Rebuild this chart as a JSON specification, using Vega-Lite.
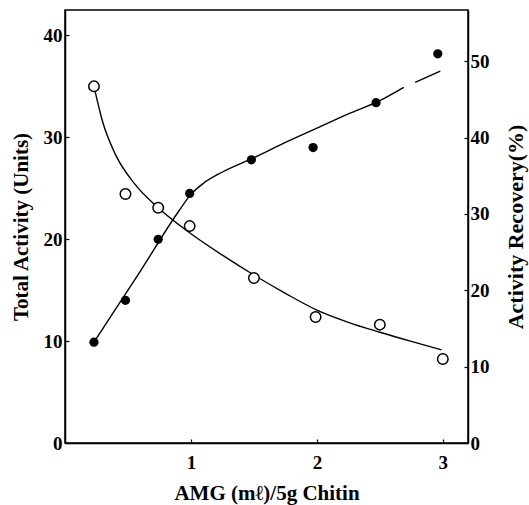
{
  "$schema": "https://vega.github.io/schema/vega-lite/v6.json",
  "width": 403,
  "height": 433,
  "autosize": {"type": "none"},
  "padding": {"left": 65, "top": 10, "right": 61, "bottom": 62},
  "background": "white",
  "config": {
    "view": {"stroke": "black", "strokeWidth": 1.5},
    "axis": {
      "grid": false,
      "domainColor": "black",
      "domainWidth": 1.5,
      "tickColor": "black",
      "tickWidth": 1.2,
      "tickSize": -4,
      "labelFont": "Liberation Serif",
      "labelFontWeight": "bold",
      "labelFontSize": 19,
      "labelColor": "black",
      "titleFont": "Liberation Serif",
      "titleFontWeight": "bold",
      "titleFontSize": 21,
      "titleColor": "black"
    }
  },
  "datasets": {
    "pts": [
      {"series": "total", "x": 0.23, "y": 9.9},
      {"series": "total", "x": 0.48, "y": 14.0},
      {"series": "total", "x": 0.74, "y": 20.0},
      {"series": "total", "x": 0.99, "y": 24.5},
      {"series": "total", "x": 1.48, "y": 27.8},
      {"series": "total", "x": 1.97, "y": 29.0},
      {"series": "total", "x": 2.47, "y": 33.4},
      {"series": "total", "x": 2.96, "y": 38.2},
      {"series": "recovery", "x": 0.23, "y": 46.7},
      {"series": "recovery", "x": 0.48, "y": 32.6},
      {"series": "recovery", "x": 0.74, "y": 30.8},
      {"series": "recovery", "x": 0.99, "y": 28.4},
      {"series": "recovery", "x": 1.50, "y": 21.6},
      {"series": "recovery", "x": 1.99, "y": 16.5},
      {"series": "recovery", "x": 2.50, "y": 15.5},
      {"series": "recovery", "x": 3.00, "y": 11.0}
    ],
    "curves": [
      {"series": "total", "seg": 1, "x": 0.23, "y": 9.9},
      {"series": "total", "seg": 1, "x": 0.6, "y": 16.9},
      {"series": "total", "seg": 1, "x": 0.9, "y": 22.7},
      {"series": "total", "seg": 1, "x": 1.0, "y": 24.4},
      {"series": "total", "seg": 1, "x": 1.1, "y": 25.5},
      {"series": "total", "seg": 1, "x": 1.25, "y": 26.6},
      {"series": "total", "seg": 1, "x": 1.5, "y": 28.0},
      {"series": "total", "seg": 1, "x": 1.75, "y": 29.5},
      {"series": "total", "seg": 1, "x": 2.0, "y": 30.9},
      {"series": "total", "seg": 1, "x": 2.25, "y": 32.3},
      {"series": "total", "seg": 1, "x": 2.5, "y": 33.6},
      {"series": "total", "seg": 1, "x": 2.69, "y": 34.9},
      {"series": "total", "seg": 2, "x": 2.78, "y": 35.4},
      {"series": "total", "seg": 2, "x": 2.98, "y": 36.5},
      {"series": "recovery", "seg": 1, "x": 0.23, "y": 46.7},
      {"series": "recovery", "seg": 1, "x": 0.30, "y": 42.0},
      {"series": "recovery", "seg": 1, "x": 0.40, "y": 37.8},
      {"series": "recovery", "seg": 1, "x": 0.55, "y": 34.0},
      {"series": "recovery", "seg": 1, "x": 0.74, "y": 30.8},
      {"series": "recovery", "seg": 1, "x": 1.0, "y": 27.4},
      {"series": "recovery", "seg": 1, "x": 1.25, "y": 24.6},
      {"series": "recovery", "seg": 1, "x": 1.5, "y": 22.0},
      {"series": "recovery", "seg": 1, "x": 1.75, "y": 19.6},
      {"series": "recovery", "seg": 1, "x": 2.0, "y": 17.4},
      {"series": "recovery", "seg": 1, "x": 2.25, "y": 15.8},
      {"series": "recovery", "seg": 1, "x": 2.5, "y": 14.5},
      {"series": "recovery", "seg": 1, "x": 2.75, "y": 13.3},
      {"series": "recovery", "seg": 1, "x": 2.99, "y": 12.2}
    ]
  },
  "layer": [
    {
      "layer": [
        {
          "data": {"name": "curves"},
          "transform": [{"filter": "datum.series === 'total'"}],
          "mark": {"type": "line", "color": "black", "strokeWidth": 1.4, "interpolate": "monotone"},
          "encoding": {
            "x": {"field": "x", "type": "quantitative", "scale": {"domain": [0, 3.2], "nice": false},
              "axis": {"values": [1, 2, 3], "format": "d", "title": "AMG (mℓ)/5g Chitin", "labelPadding": 14, "titlePadding": 10}},
            "y": {"field": "y", "type": "quantitative", "scale": {"domain": [0, 42.5], "nice": false},
              "axis": {"orient": "left", "values": [0, 10, 20, 30, 40], "title": "Total Activity (Units)", "labelPadding": 7, "titlePadding": 12}},
            "detail": {"field": "seg"}
          }
        },
        {
          "data": {"name": "pts"},
          "transform": [{"filter": "datum.series === 'total'"}],
          "mark": {"type": "point", "shape": "circle", "filled": true, "color": "black", "size": 85, "opacity": 1},
          "encoding": {
            "x": {"field": "x", "type": "quantitative"},
            "y": {"field": "y", "type": "quantitative"}
          }
        }
      ]
    },
    {
      "layer": [
        {
          "data": {"name": "curves"},
          "transform": [{"filter": "datum.series === 'recovery'"}],
          "mark": {"type": "line", "color": "black", "strokeWidth": 1.4, "interpolate": "monotone"},
          "encoding": {
            "x": {"field": "x", "type": "quantitative"},
            "y": {"field": "y", "type": "quantitative", "scale": {"domain": [0, 56.7], "nice": false},
              "axis": {"orient": "right", "values": [0, 10, 20, 30, 40, 50], "title": "Activity Recovery(%)", "titleAngle": 270, "titleBaseline": "top", "titleFontSize": 22, "labelPadding": 6, "titlePadding": 16}},
            "detail": {"field": "seg"}
          }
        },
        {
          "data": {"name": "pts"},
          "transform": [{"filter": "datum.series === 'recovery'"}],
          "mark": {"type": "point", "shape": "circle", "filled": false, "fill": "white", "fillOpacity": 1, "stroke": "black", "strokeWidth": 1.5, "size": 110, "opacity": 1},
          "encoding": {
            "x": {"field": "x", "type": "quantitative"},
            "y": {"field": "y", "type": "quantitative"}
          }
        }
      ]
    }
  ],
  "resolve": {"scale": {"y": "independent"}}
}
